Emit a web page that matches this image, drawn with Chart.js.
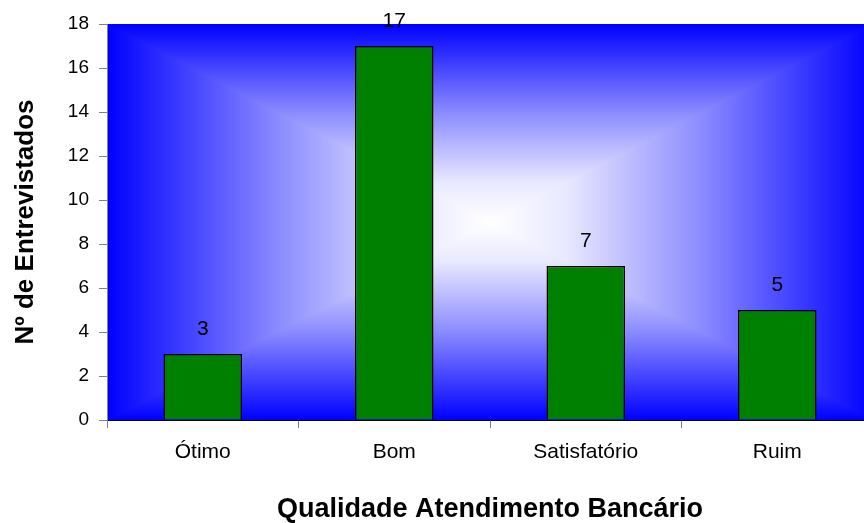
<!DOCTYPE html>
<html><head><meta charset="utf-8">
<script src="https://cdn.jsdelivr.net/npm/chart.js@4"></script>
<style>html,body{margin:0;padding:0;overflow:hidden;background:#fff;width:864px;height:523px}#wrap{width:873px;height:523px}</style>
</head><body><div id="wrap"><canvas id="c" width="873" height="523"></canvas></div>
<script>
const categories = ["Ótimo", "Bom", "Satisfatório", "Ruim"];
const values = [3, 17, 7, 5];
const yTicks = [0, 2, 4, 6, 8, 10, 12, 14, 16, 18];
const xTitle = "Qualidade Atendimento Bancário";
const yTitle = "Nº de Entrevistados";
const FONT = '"Liberation Sans", Arial, sans-serif';

const bgPlugin = {
  id: 'bg',
  beforeDraw(chart) {
    const {ctx, chartArea: a} = chart;
    const cx = (a.left + a.right) / 2, cy = (a.top + a.bottom) / 2;
    const stops = [[0, '#0000ff'], [0.45, '#8c8cff'], [0.8, '#e8e8ff'], [1, '#ffffff']];
    const tri = (pts, x0, y0, x1, y1) => {
      const g = ctx.createLinearGradient(x0, y0, x1, y1);
      stops.forEach(s => g.addColorStop(s[0], s[1]));
      ctx.beginPath();
      ctx.moveTo(pts[0][0], pts[0][1]);
      for (let i = 1; i < pts.length; i++) ctx.lineTo(pts[i][0], pts[i][1]);
      ctx.closePath();
      ctx.fillStyle = g;
      ctx.fill();
    };
    ctx.save();
    ctx.beginPath();
    ctx.rect(a.left, a.top, a.right - a.left, a.bottom - a.top);
    ctx.clip();
    tri([[a.left - 3, a.top], [a.right + 3, a.top], [cx + 3, cy], [cx - 3, cy]], 0, a.top, 0, cy);
    tri([[a.left - 3, a.bottom], [a.right + 3, a.bottom], [cx + 3, cy], [cx - 3, cy]], 0, a.bottom, 0, cy);
    tri([[a.left, a.top], [a.left, a.bottom], [cx, cy]], a.left, 0, cx, 0);
    tri([[a.right, a.top], [a.right, a.bottom], [cx, cy]], a.right, 0, cx, 0);
    ctx.restore();
  }
};
const labelPlugin = {
  id: 'lbl',
  afterDatasetsDraw(chart) {
    const {ctx} = chart;
    const meta = chart.getDatasetMeta(0);
    ctx.save();
    ctx.font = '21px ' + FONT;
    ctx.fillStyle = '#000';
    ctx.textAlign = 'center';
    ctx.textBaseline = 'middle';
    meta.data.forEach((el, i) => {
      ctx.fillText(String(values[i]), el.x, el.y - 25);
    });
    ctx.restore();
  }
};

new Chart(document.getElementById('c'), {
  type: 'bar',
  data: {
    labels: categories,
    datasets: [{
      data: values,
      backgroundColor: '#008000',
      borderColor: '#000000',
      borderWidth: 1.5,
      barPercentage: 0.41,
      categoryPercentage: 1.0
    }]
  },
  options: {
    responsive: false,
    animation: false,
    layout: {padding: {top: 24, right: 0, left: 0, bottom: 0}},
    plugins: {legend: {display: false}, tooltip: {enabled: false}},
    scales: {
      x: {
        offset: true,
        grid: {display: true, offset: true, drawOnChartArea: false, tickLength: 8, color: '#808080', lineWidth: 1},
        border: {display: true, color: '#000000', width: 1},
        ticks: {color: '#000', font: {family: FONT, size: 21}, padding: 12, maxRotation: 0},
        title: {display: true, text: xTitle, color: '#000', font: {family: FONT, size: 27, weight: 'bold', lineHeight: 1.0}, padding: {top: 0, bottom: 0}},
        afterFit(s) { s.height = 103; }
      },
      y: {
        min: 0, max: 18,
        afterBuildTicks(s) { s.ticks = yTicks.map(v => ({value: v})); },
        grid: {display: true, drawOnChartArea: false, tickLength: 8, color: '#808080', lineWidth: 1},
        border: {display: true, color: '#808080', width: 1},
        ticks: {color: '#000', font: {family: FONT, size: 19}, padding: 10},
        title: {display: true, text: yTitle, color: '#000', font: {family: FONT, size: 26, weight: 'bold', lineHeight: 1.0}, padding: {top: 13, bottom: 0}},
        afterFit(s) { s.width = 107; }
      }
    }
  },
  plugins: [bgPlugin, labelPlugin]
});
</script></body></html>
